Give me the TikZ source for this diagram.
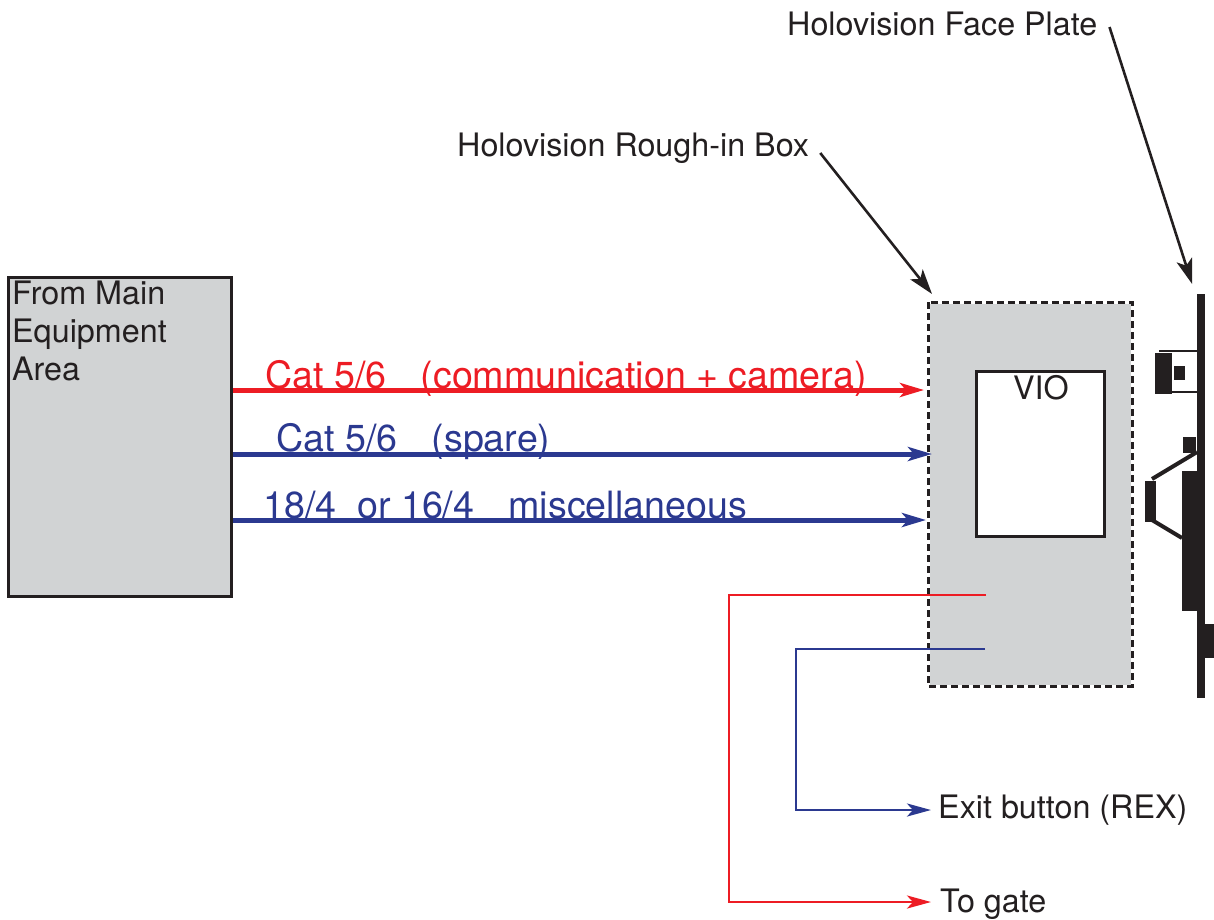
\documentclass[tikz,border=0pt]{standalone}
\usepackage{fontspec}
\setmainfont{TeX Gyre Heros}
\usetikzlibrary{arrows.meta}
\definecolor{ink}{HTML}{231F20}
\definecolor{panel}{HTML}{D1D3D4}
\definecolor{wirered}{HTML}{ED1C24}
\definecolor{wireblue}{HTML}{2B3990}

\begin{document}
\begin{tikzpicture}[x=1pt,y=-1pt,
    txt/.style={inner sep=0pt,text=ink,font=\fontsize{32.3}{38}\selectfont},
    cable/.style={txt,font=\fontsize{37.6}{40}\selectfont,anchor=base west},
    box/.style={draw=ink,line width=3pt,fill=panel,inner sep=0pt},
    wire/.style={line width=5pt,-{Stealth[length=24pt,width=14pt,inset=6pt]}},
    thin wire/.style={line width=2.8pt,-{Stealth[length=24pt,width=13pt,inset=6pt]}},
    pointer/.style={draw=ink,line width=2.6pt,-{Stealth[length=25pt,width=16pt,inset=6pt]}}]

    \useasboundingbox (0,0) rectangle (1214,919);

    \node[box,minimum width=223.5pt,minimum height=319.5pt] (Equipment) at (120,437) {};
    \node[box,draw=none,minimum width=201pt,minimum height=381pt] (Rough) at (1030,494) {};
    \draw[ink,line width=3pt,dash pattern=on 7pt off 4pt] (Rough.north west) rectangle (Rough.south east);
    \node[box,fill=white,minimum width=128.5pt,minimum height=165.5pt] (VIO) at (1040.5,454) {};
    \node[txt,anchor=base] (VIOname) at (1041,399) {VIO};
    \node[txt,anchor=north west,align=left] (EquipName) at (12,281) {From Main\\Equipment\\Area};

    \node[txt,anchor=base west] (RoughName) at (457,156) {Holovision Rough-in Box};
    \node[txt,anchor=base west] (PlateName) at (787,35) {Holovision Face Plate};
    \node[txt,anchor=base west] (Exit) at (938,818) {Exit button (REX)};
    \node[txt,anchor=base west] (Gate) at (940,912) {To gate};

    % cables from the equipment area
    \coordinate (CatEnd) at (924,390);
    \coordinate (SpareEnd) at (932,454);
    \coordinate (MiscEnd) at (926,520);
    \draw[wire,wirered] (Equipment.east |- CatEnd) -- (CatEnd);
    \draw[wire,wireblue] (Equipment.east |- SpareEnd) -- (SpareEnd);
    \draw[wire,wireblue] (Equipment.east |- MiscEnd) -- (MiscEnd);
    \node[cable,text=wirered] (CatName) at (265,388) {Cat 5/6\ \ \ \hspace{3pt}(communication + camera)};
    \node[cable,text=wireblue] (SpareName) at (276,451) {Cat 5/6\ \ \ \hspace{3pt}(spare)};
    \node[cable,text=wireblue] (MiscName) at (263,518) {18/4\ \ or 16/4\ \ \ \hspace{3pt}miscellaneous};

    % wires out of the box
    \coordinate (GateStart) at (986,595);
    \coordinate (GateTurn) at (729,902);
    \coordinate (GateEnd) at (931,902);
    \coordinate (ExitStart) at (985,649);
    \coordinate (ExitTurn) at (796,810);
    \coordinate (ExitEnd) at (931,810);
    \draw[thin wire,wirered] (GateStart) -| (GateTurn) -- (GateEnd);
    \draw[thin wire,wireblue] (ExitStart) -| (ExitTurn) -- (ExitEnd);

    % face plate
    \node[fill=ink,inner sep=0pt,minimum width=8pt,minimum height=404pt] (Plate) at (1201,496) {};
    \foreach \xa/\ya/\xb/\yb in {1155/353/1172/394,1174/366/1185/380,1183/437/1196/453,
        1145/481/1156/522,1182/471/1197/611,1205/624/1214/658}
      \fill[ink] (\xa,\ya) rectangle (\xb,\yb);
    \draw[ink,line width=1.5pt] (1159,351) -- (1197,351);
    \draw[ink,line width=1.5pt] (1172,392) -- (1197,392);
    \draw[ink,line width=4pt] (1197,452) -- (1152,479);
    \draw[ink,line width=4pt] (1152,520) -- (1182,538);

    \draw[pointer] ([shift={(11,-3)}]RoughName.base east) -- ([shift={(4,-8)}]Rough.north west);
    \draw[pointer] ([shift={(12,-8)}]PlateName.base east) -- ([shift={(-9,-10)}]Plate.north);
\end{tikzpicture}
\end{document}
